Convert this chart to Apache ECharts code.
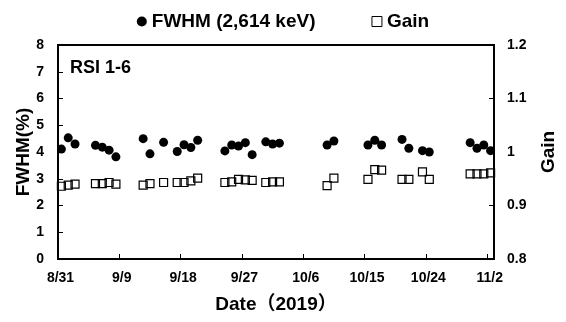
<!DOCTYPE html>
<html>
<head>
<meta charset="utf-8">
<script src="https://cdn.jsdelivr.net/npm/echarts@6/dist/echarts.min.js"></script>
<style>html,body{margin:0;padding:0;background:#fff}#c{width:566px;height:322px}</style>
</head>
<body>
<div id="c"></div>
<script>
// day offsets from 8/31/2019 (points plotted mid-day)
const days = [0.5,1.5,2.5,5.5,6.5,7.5,8.5,12.5,13.5,15.5,17.5,18.5,19.5,20.5,
  24.5,25.5,26.5,27.5,28.5,30.5,31.5,32.5,39.5,40.5,45.5,46.5,47.5,
  50.5,51.5,53.5,54.5,60.5,61.5,62.5,63.5];
const fwhm = [4.11,4.53,4.30,4.25,4.18,4.07,3.82,4.50,3.93,4.36,4.02,4.27,4.17,4.44,
  4.04,4.26,4.22,4.35,3.90,4.38,4.30,4.33,4.26,4.41,4.26,4.44,4.26,
  4.47,4.14,4.05,4.00,4.35,4.14,4.26,4.05];
const gain = [0.936,0.938,0.940,0.941,0.941,0.943,0.940,0.938,0.941,0.943,0.943,0.943,0.946,0.951,
  0.943,0.944,0.949,0.948,0.947,0.943,0.944,0.944,0.937,0.951,0.949,0.967,0.966,
  0.949,0.949,0.963,0.949,0.959,0.959,0.959,0.961];
const tickLabels = ['8/31','9/9','9/18','9/27','10/6','10/15','10/24','11/2'];

const FONT = '"Liberation Sans", Arial, "Noto Sans CJK SC", sans-serif';
const chart = echarts.init(document.getElementById('c'), null, {renderer: 'canvas'});
const axisCommon = {
  axisLine: {show: true, lineStyle: {color: '#000', width: 2}},
  axisTick: {show: true, inside: true, length: 5, lineStyle: {color: '#000', width: 1}},
  splitLine: {show: false},
  nameMoveOverlap: false,
  axisLabel: {color: '#000', fontWeight: 'bold', fontSize: 14, fontFamily: FONT},
  nameTextStyle: {color: '#000', fontWeight: 'bold', fontSize: 19, fontFamily: FONT}
};
chart.setOption({
  animation: false,
  backgroundColor: '#fff',
  grid: {left: 58, right: 72, top: 45, bottom: 63, show: true, borderColor: '#000', borderWidth: 2, backgroundColor: 'transparent'},
  legend: {
    top: 7, left: 'center', itemGap: 56, itemWidth: 10, itemHeight: 10,
    textStyle: {color: '#000', fontWeight: 'bold', fontSize: 19, fontFamily: FONT},
    data: [
      {name: 'FWHM (2,614 keV)', icon: 'circle', itemStyle: {color: '#000'}},
      {name: 'Gain', icon: 'rect', itemStyle: {color: 'rgba(0,0,0,0)', borderColor: '#000', borderWidth: 1}}
    ]
  },
  graphic: [{
    type: 'text', left: 70, top: 59,
    style: {text: 'RSI 1-6', fill: '#000', font: 'bold 18px ' + FONT}
  }],
  xAxis: Object.assign({}, axisCommon, {
    type: 'value', min: 0, max: 64, interval: 9,
    name: 'Date（2019）', nameLocation: 'middle', nameGap: 36,
    axisLabel: Object.assign({}, axisCommon.axisLabel, {
      margin: 12, padding: [0, 0, 0, 5],
      formatter: v => (v % 9 === 0 && tickLabels[v / 9]) ? tickLabels[v / 9] : ''
    })
  }),
  yAxis: [
    Object.assign({}, axisCommon, {
      type: 'value', min: 0, max: 8, interval: 1, position: 'left',
      name: 'FWHM(%)', nameLocation: 'middle', nameGap: 25,
      axisLabel: Object.assign({}, axisCommon.axisLabel, {margin: 14})
    }),
    Object.assign({}, axisCommon, {
      type: 'value', min: 0.8, max: 1.2, interval: 0.1, position: 'right',
      name: 'Gain', nameLocation: 'middle', nameGap: 45,
      axisLabel: Object.assign({}, axisCommon.axisLabel, {margin: 13,
        formatter: v => String(Math.round(v * 10) / 10)})
    })
  ],
  series: [
    {
      name: 'FWHM (2,614 keV)', type: 'scatter', yAxisIndex: 0,
      symbol: 'circle', symbolSize: 9,
      itemStyle: {color: '#000', opacity: 1},
      data: days.map((d, i) => [d, fwhm[i]])
    },
    {
      name: 'Gain', type: 'scatter', yAxisIndex: 1,
      symbol: 'rect', symbolSize: 8,
      itemStyle: {color: 'rgba(0,0,0,0)', borderColor: '#000', borderWidth: 1.2, opacity: 1},
      data: days.map((d, i) => [d, gain[i]])
    }
  ]
});
</script>
</body>
</html>
